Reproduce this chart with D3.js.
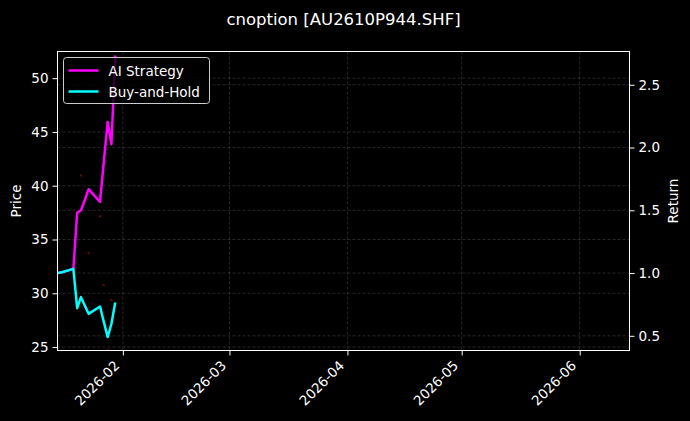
<!DOCTYPE html>
<html>
<head>
<meta charset="utf-8">
<script src="https://cdn.jsdelivr.net/npm/d3@7"></script>
<style>
  html, body { margin: 0; padding: 0; background: #000; }
  svg { display: block; font-family: "DejaVu Sans", sans-serif; }
</style>
</head>
<body>
<div id="chart"></div>
<script>
var dates = ['2026-01-15', '2026-01-16', '2026-01-19', '2026-01-20', '2026-01-21', '2026-01-22',
  '2026-01-23', '2026-01-26', '2026-01-27', '2026-01-28', '2026-01-29', '2026-01-30'];
var aiReturn = [1.0, 1.006, 1.033, 1.48, 1.50, 1.58, 1.668, 1.567, 1.885, 2.203, 2.026, 2.733];
var bhReturn = [1.0, 1.006, 1.033, 0.72, 0.808, 0.742, 0.675, 0.733, 0.611, 0.49, 0.596, 0.765];

var signalDates = ['2026-01-21', '2026-01-23', '2026-01-26', '2026-01-27', '2026-01-28', '2026-01-29'];
var signalPrices = [40.95, 33.73, 37.16, 30.77, 24.75, 29.38];

var priceTicks = [25, 30, 35, 40, 45, 50];
var returnTicks = [0.5, 1.0, 1.5, 2.0, 2.5];
var monthTicks = ['2026-02', '2026-03', '2026-04', '2026-05', '2026-06'];

var seriesNames = ['AI Strategy', 'Buy-and-Hold'];
var seriesColors = ['#ff00ff', '#00ffff'];

var width = 690,
    height = 421,
    plotLeft = 57.5, plotRight = 629.5, plotTop = 51.5, plotBottom = 350.5;

var parseDay = d3.utcParse('%Y-%m-%d');
var parseMonth = d3.utcParse('%Y-%m');

var svg = d3.select('#chart').append('svg').attr('width', width).attr('height', height);
svg.append('rect').attr('width', width).attr('height', height).attr('fill', '#000');

var xScale = d3.scaleUtc()
  .domain([new Date(Date.UTC(2026, 0, 14, 20)), new Date(Date.UTC(2026, 5, 14, 2))])
  .range([plotLeft, plotRight]);

var yPrice = d3.scaleLinear().domain([24.68, 52.48]).range([plotBottom, plotTop]);
var yReturn = d3.scaleLinear().domain([0.383, 2.765]).range([plotBottom, plotTop]);

// grid
var grid = svg.append('g').attr('stroke', '#ffffff').attr('stroke-opacity', 0.25)
  .attr('stroke-width', 0.6).attr('stroke-dasharray', '3,2');
grid.selectAll('.gx').data(monthTicks).enter().append('line')
  .attr('x1', function(d) { return xScale(parseMonth(d)); })
  .attr('x2', function(d) { return xScale(parseMonth(d)); })
  .attr('y1', plotTop).attr('y2', plotBottom);
grid.selectAll('.gp').data(priceTicks).enter().append('line')
  .attr('x1', plotLeft).attr('x2', plotRight)
  .attr('y1', function(d) { return yPrice(d); })
  .attr('y2', function(d) { return yPrice(d); });
grid.selectAll('.gr').data(returnTicks).enter().append('line')
  .attr('x1', plotLeft).attr('x2', plotRight)
  .attr('y1', function(d) { return yReturn(d); })
  .attr('y2', function(d) { return yReturn(d); });

var plot = svg.append('g');
svg.append('clipPath').attr('id', 'clip').append('rect')
  .attr('x', plotLeft).attr('y', plotTop)
  .attr('width', plotRight - plotLeft).attr('height', plotBottom - plotTop);

// signal dots
plot.append('g').selectAll('circle').data(signalDates).enter().append('circle')
  .attr('cx', function(d) { return xScale(parseDay(d)); })
  .attr('cy', function(d, i) { return yPrice(signalPrices[i]); })
  .attr('r', 1.2)
  .attr('fill', '#ff2020')
  .attr('fill-opacity', 0.35);

var returnLine = d3.line()
  .x(function(d, i) { return xScale(parseDay(dates[i])); })
  .y(function(d) { return yReturn(d); });

[aiReturn, bhReturn].forEach(function(series, k) {
  plot.append('path')
    .attr('d', returnLine(series))
    .attr('fill', 'none')
    .attr('stroke', seriesColors[k])
    .attr('stroke-width', 2.5)
    .attr('stroke-linejoin', 'round')
    .attr('clip-path', 'url(#clip)');
});

// axes
var xAxis = d3.axisBottom(xScale)
  .tickValues(monthTicks.map(function(d) { return parseMonth(d); }))
  .tickFormat(d3.utcFormat('%Y-%m'))
  .tickSize(5).tickPadding(4);
var gx = svg.append('g').attr('transform', 'translate(0,' + plotBottom + ')').call(xAxis);
gx.selectAll('text')
  .attr('text-anchor', 'end')
  .attr('dy', null)
  .attr('y', 0)
  .attr('transform', 'translate(-3,16) rotate(-45)');

var gl = svg.append('g').attr('transform', 'translate(' + plotLeft + ',0)')
  .call(d3.axisLeft(yPrice).tickValues(priceTicks).tickSize(5).tickPadding(4));
var gr = svg.append('g').attr('transform', 'translate(' + plotRight + ',0)')
  .call(d3.axisRight(yReturn).tickValues(returnTicks).tickFormat(d3.format('.1f')).tickSize(5).tickPadding(4));

[gx, gl, gr].forEach(function(g) {
  g.select('.domain').remove();
  g.selectAll('line').attr('stroke', '#fff');
  g.selectAll('text').attr('fill', '#fff').attr('font-size', 13.5).attr('font-family', 'DejaVu Sans');
});

// frame
svg.append('rect')
  .attr('x', plotLeft).attr('y', plotTop)
  .attr('width', plotRight - plotLeft).attr('height', plotBottom - plotTop)
  .attr('fill', 'none').attr('stroke', '#fff').attr('stroke-width', 1);

// labels
svg.append('text').attr('x', (plotLeft + plotRight) / 2).attr('y', 25)
  .attr('text-anchor', 'middle').attr('fill', '#fff').attr('font-size', 16.5)
  .text('cnoption [AU2610P944.SHF]');
svg.append('text').attr('transform', 'translate(21,' + (plotTop + plotBottom) / 2 + ') rotate(-90)')
  .attr('text-anchor', 'middle').attr('fill', '#fff').attr('font-size', 13.5).text('Price');
svg.append('text').attr('transform', 'translate(678,' + (plotTop + plotBottom) / 2 + ') rotate(-90)')
  .attr('text-anchor', 'middle').attr('fill', '#fff').attr('font-size', 13.5).text('Return');

// legend
var legend = svg.append('g').attr('transform', 'translate(63.5,57.5)');
legend.append('rect').attr('width', 146).attr('height', 46).attr('rx', 3)
  .attr('fill', '#000').attr('fill-opacity', 0.8)
  .attr('stroke', '#ccc').attr('stroke-width', 1);
seriesNames.forEach(function(name, i) {
  var y = 13 + i * 21;
  legend.append('line').attr('x1', 5).attr('x2', 35).attr('y1', y).attr('y2', y)
    .attr('stroke', seriesColors[i]).attr('stroke-width', 2.5);
  legend.append('text').attr('x', 45).attr('y', y + 5)
    .attr('fill', '#fff').attr('font-size', 13.5).text(name);
});
</script>
</body>
</html>
